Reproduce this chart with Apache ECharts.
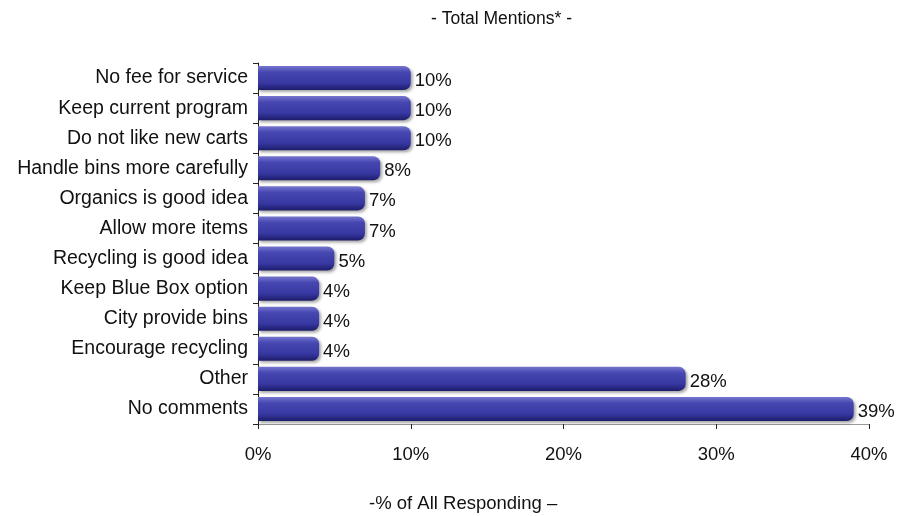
<!DOCTYPE html>
<html>
<head>
<meta charset="utf-8">
<title>Total Mentions</title>
<script src="https://cdn.jsdelivr.net/npm/echarts@6/dist/echarts.min.js"></script>
<style>
  html, body { margin: 0; padding: 0; background: #fff; }
  #chart { width: 902px; height: 516px; }
</style>
</head>
<body>
<div id="chart"></div>
<script>
var categories = [
    'No fee for service',
    'Keep current program',
    'Do not like new carts',
    'Handle bins more carefully',
    'Organics is good idea',
    'Allow more items',
    'Recycling is good idea',
    'Keep Blue Box option',
    'City provide bins',
    'Encourage recycling',
    'Other',
    'No comments'
];
var mentions = [10, 10, 10, 8, 7, 7, 5, 4, 4, 4, 28, 39];
var axisTicks = [0, 10, 20, 30, 40];

var barColor = new echarts.graphic.LinearGradient(0, 0, 0, 1, [
    { offset: 0, color: '#7676cf' },
    { offset: 0.25, color: '#4747b2' },
    { offset: 0.7, color: '#3838a3' },
    { offset: 1, color: '#1c1c6a' }
]);

var option = {
    animation: false,
    textStyle: { fontFamily: 'Liberation Sans, Arial, sans-serif' },
    title: [
        {
            text: '- Total Mentions* -',
            left: 426,
            top: 5,
            textStyle: { fontSize: 17.5, fontWeight: 'normal', color: '#111' }
        },
        {
            // axis caption sits left of the axis centre in the original
            text: '-% of All Responding \u2013',
            left: 364,
            top: 489,
            textStyle: { fontSize: 18.5, fontWeight: 'normal', color: '#111' }
        }
    ],
    grid: {
        left: 258,
        right: 33,
        top: 63,
        bottom: 92,
        containLabel: false
    },
    xAxis: {
        type: 'value',
        min: axisTicks[0],
        max: axisTicks[axisTicks.length - 1],
        interval: 10,
        axisLine: { show: true, lineStyle: { color: '#9a9a9a', width: 1 } },
        axisTick: { show: true, length: 5, lineStyle: { color: '#222' } },
        axisLabel: {
            fontSize: 18.5,
            color: '#111',
            margin: 21,
            formatter: '{value}%'
        },
        splitLine: { show: false }
    },
    yAxis: {
        type: 'category',
        data: categories,
        inverse: true,
        axisLine: { show: true, lineStyle: { color: '#222', width: 1 } },
        axisTick: { show: true, length: 5, alignWithLabel: false, lineStyle: { color: '#222' } },
        axisLabel: { fontSize: 19.5, color: '#111', margin: 10, padding: [8, 0, 0, 0] }
    },
    series: [
        {
            name: 'Total Mentions',
            type: 'bar',
            data: mentions,
            barCategoryGap: '20%',
            itemStyle: {
                color: barColor,
                borderRadius: [0, 7, 7, 0],
                shadowColor: 'rgba(0,0,0,0.35)',
                shadowBlur: 3,
                shadowOffsetX: 2,
                shadowOffsetY: 2
            },
            label: {
                show: true,
                position: 'right',
                distance: 4,
                offset: [0, 3],
                fontSize: 18.5,
                color: '#111',
                formatter: '{c}%'
            }
        }
    ]
};

var myChart = echarts.init(document.getElementById('chart'));
myChart.setOption(option);
window.onresize = myChart.resize;
</script>
</body>
</html>
